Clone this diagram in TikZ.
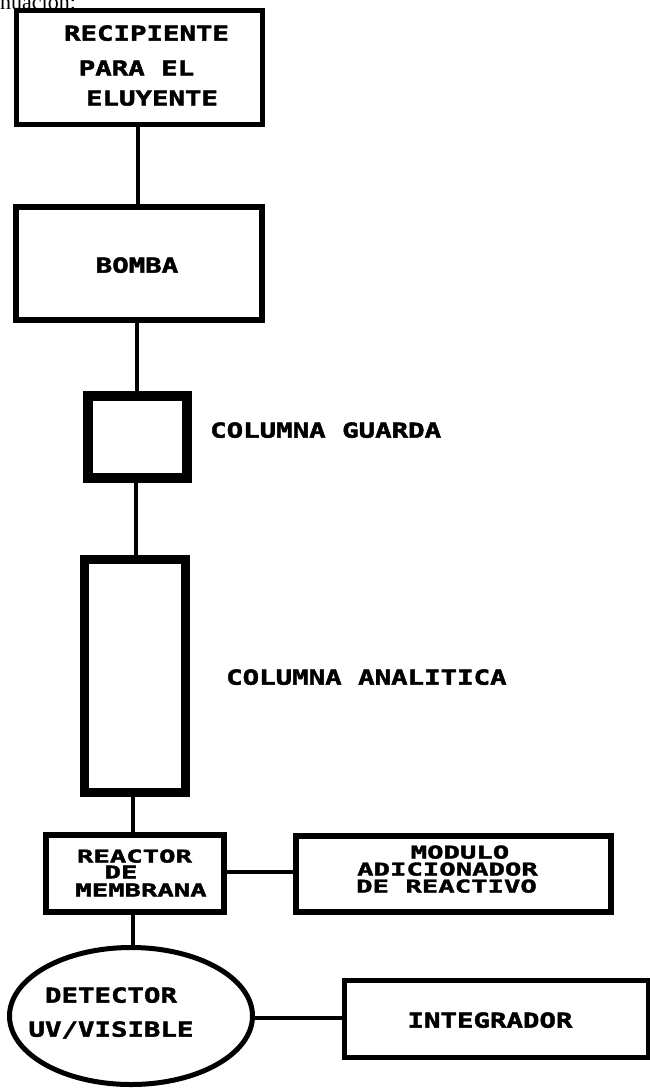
\documentclass[tikz,border=0pt]{standalone}
\usepackage{fontspec}
\usetikzlibrary{shapes.geometric}
\newfontfamily\dotfont{DejaVu Sans Mono}[FakeStretch=1.33, BoldFeatures={FakeBold=2.2}]
\newfontfamily\dotfontnarrow{DejaVu Sans Mono}[FakeStretch=1.55, BoldFeatures={FakeBold=2.2}]
\newfontfamily\textserif{Liberation Serif}
\tikzset{
  box/.style={draw, line width=#1, rectangle, inner sep=0pt},
  oval/.style={draw, line width=#1, ellipse, inner sep=0pt},
  link/.style={line width=3.5pt},
  lbl/.style={inner sep=0pt, text depth=0pt, font=\dotfont\bfseries\fontsize{20.6}{20}\selectfont},
  lblsm/.style={inner sep=0pt, text depth=0pt, font=\dotfontnarrow\bfseries\fontsize{17.6}{18}\selectfont}
}
\begin{document}
\begin{tikzpicture}[x=1pt, y=-1pt]
  \useasboundingbox (0,0) rectangle (650,1089);

  % tail of the sentence above the chart
  \node[anchor=base west, inner sep=0pt, font=\textserif\fontsize{22}{24}\selectfont] (intro) at (0,10) {nuación:};

  % boxes of the flow line
  \node[box=5pt, minimum width=246pt, minimum height=114pt] (recip) at (139.5,67.5) {};
  \node[box=6pt, minimum width=246pt, minimum height=113pt] (bomba) at (139,263.5) {};
  \node[box=10pt, minimum width=99pt, minimum height=82pt] (guarda) at (137.5,437) {};
  \node[box=9pt, minimum width=101pt, minimum height=233pt] (analit) at (135,676) {};
  \node[box=6pt, minimum width=178pt, minimum height=77pt] (reactor) at (135,873.5) {};
  \node[box=6pt, minimum width=315pt, minimum height=76pt] (modulo) at (453.5,874) {};
  \node[oval=5pt, minimum width=243pt, minimum height=137pt] (detector) at (131,1016) {};
  \node[box=5pt, minimum width=304pt, minimum height=77pt] (integ) at (496.5,1019) {};

  % labels
  \node[lbl] (t1a) at (146.5,33) {RECIPIENTE};
  \node[lbl] (t1b) at (136.5,68) {PARA EL};
  \node[lbl] (t1c) at (152,98) {ELUYENTE};
  \node[lbl] (t2) at (137,265) {BOMBA};
  \node[lbl, anchor=west] (t3) at (210,430) {COLUMNA GUARDA};
  \node[lbl, anchor=west] (t4) at (226,677) {COLUMNA ANALITICA};
  \node[lblsm] (t5a) at (134.5,856) {REACTOR};
  \node[lblsm] (t5b) at (121,872) {DE};
  \node[lblsm] (t5c) at (141,890) {MEMBRANA};
  \node[lblsm] (t6a) at (460,852) {MODULO};
  \node[lblsm] (t6b) at (447.5,869) {ADICIONADOR};
  \node[lblsm] (t6c) at (446.5,886) {DE REACTIVO};
  \node[lbl] (t7a) at (111,995) {DETECTOR};
  \node[lbl] (t7b) at (111,1029) {UV/VISIBLE};
  \node[lbl] (t8) at (490,1020) {INTEGRADOR};

  % connectors
  \draw[link] (recip.south -| 138,0) -- (bomba.north -| 138,0);
  \draw[link] (bomba.south -| 137,0) -- (guarda.north -| 137,0);
  \draw[link] (guarda.south -| 136,0) -- (analit.north -| 136,0);
  \draw[link] (analit.south -| 133,0) -- (reactor.north -| 133,0);
  \draw[link] (reactor.south -| 133,0) -- (detector.north -| 133,0);
  \draw[link] (reactor.east |- 0,872) -- (modulo.west |- 0,872);
  \draw[link] (detector.east |- 0,1018) -- (integ.west |- 0,1018);
\end{tikzpicture}
\end{document}
